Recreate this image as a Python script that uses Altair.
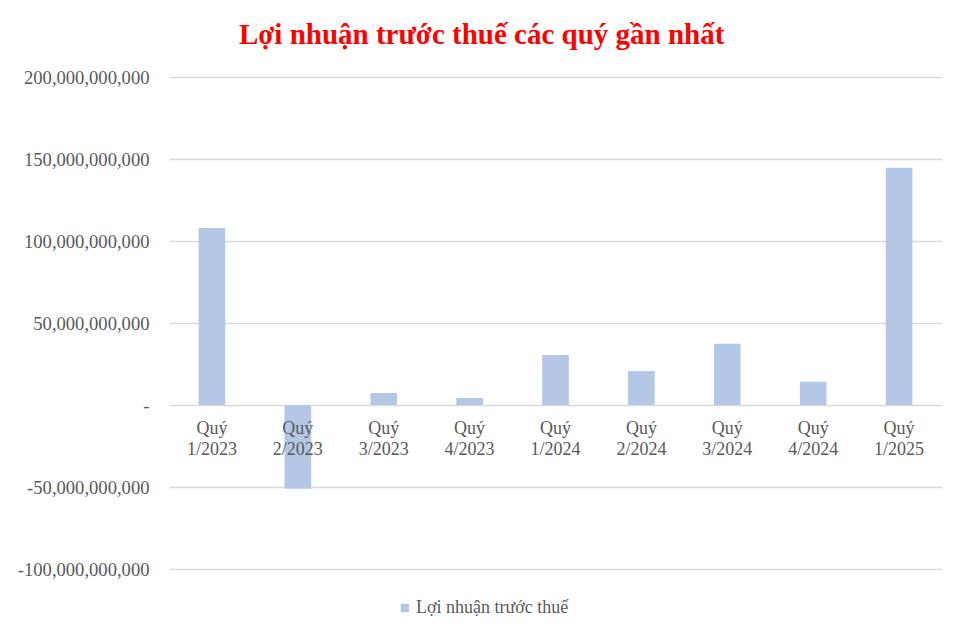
import altair as alt
import pandas as pd

quarters = ["Quý 1/2023", "Quý 2/2023", "Quý 3/2023", "Quý 4/2023", "Quý 1/2024",
            "Quý 2/2024", "Quý 3/2024", "Quý 4/2024", "Quý 1/2025"]
profit = [108_000_000_000, -51_000_000_000, 7_300_000_000, 4_300_000_000, 30_500_000_000,
          20_700_000_000, 37_400_000_000, 14_200_000_000, 144_700_000_000]
series_name = "Lợi nhuận trước thuế"
y_ticks = [-100_000_000_000, -50_000_000_000, 0, 50_000_000_000, 100_000_000_000,
           150_000_000_000, 200_000_000_000]

df = pd.DataFrame({"quarter": quarters, "profit": profit, "series": [series_name] * len(quarters)})

FONT = "Liberation Serif"
GRAY = "#595959"

bars = alt.Chart(df).mark_bar(color="#B4C7E7").encode(
    x=alt.X("quarter:N", sort=quarters,
            scale=alt.Scale(paddingInner=0.69, paddingOuter=0.345),
            axis=alt.Axis(title=None, orient="bottom", offset=-164, domain=False, ticks=False,
                          grid=False, labelAngle=0, labelPadding=14, labelFont=FONT,
                          labelFontSize=18, labelColor=GRAY, labelLineHeight=21, zindex=1,
                          labelExpr="split(datum.label, ' ')")),
    y=alt.Y("profit:Q",
            scale=alt.Scale(domain=[-100_000_000_000, 200_000_000_000], nice=False),
            axis=alt.Axis(title=None, values=y_ticks, domain=False, ticks=False,
                          labelPadding=20, labelFont=FONT, labelFontSize=18.6, labelColor=GRAY,
                          gridColor="#D9D9D9", gridWidth=1.5,
                          labelExpr="datum.value == 0 ? '-\u00a0\u00a0' : (datum.value < 0 ? '-' + format(-datum.value, ',') : format(datum.value, ','))")),
    fill=alt.Fill("series:N",
                  scale=alt.Scale(domain=[series_name], range=["#B4C7E7"]),
                  legend=alt.Legend(title=None, orient="none", legendX=227, legendY=522,
                                    symbolType="square", symbolSize=70, symbolStrokeWidth=0,
                                    labelFont=FONT, labelFontSize=18, labelColor=GRAY,
                                    labelOffset=2)),
)

chart = bars.properties(
    width=773,
    height=492,
    background="white",
    padding={"left": 9, "top": 13, "right": 11, "bottom": 5},
    title=alt.TitleParams(text="Lợi nhuận trước thuế các quý gần nhất", font=FONT,
                          fontSize=29, fontWeight="bold", color="#FF0000",
                          anchor="middle", frame="bounds", offset=18, dx=2),
).configure_view(stroke=None)

chart.save("out.html", embed_options={"renderer": "svg", "actions": False})
